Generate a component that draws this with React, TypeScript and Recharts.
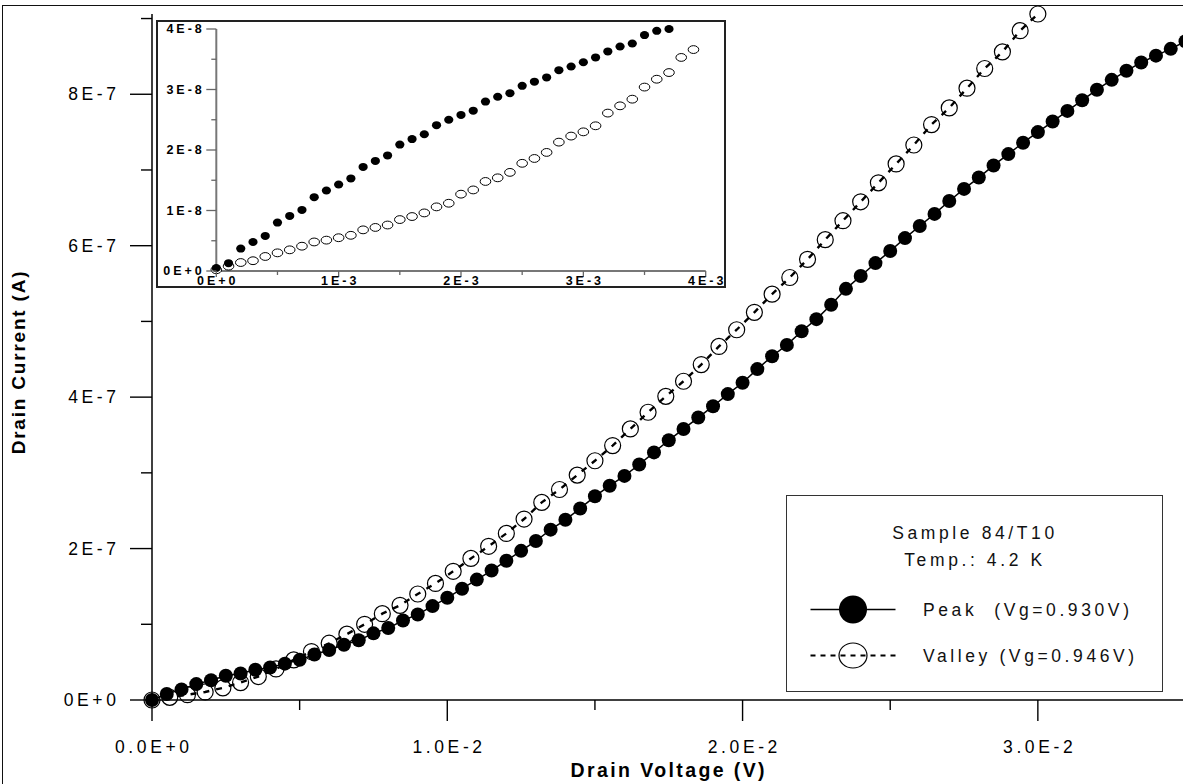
import React from "react"
import { ComposedChart, Line, XAxis, YAxis, Legend, Label } from "recharts"

const FONT = '"Liberation Sans", Arial, Helvetica, sans-serif'

// main plot: drain voltage in mV, drain current in units of 1E-7 A
const peakVoltage = [
  0, 0.5, 1, 1.5, 2, 2.5, 3, 3.5, 4, 4.5, 5, 5.5, 6, 6.5, 7, 7.5, 8, 8.5, 9, 9.5,
  10, 10.5, 11, 11.5, 12, 12.5, 13, 13.5, 14, 14.5, 15, 15.5, 16, 16.5, 17, 17.5,
  18, 18.5, 19, 19.5, 20, 20.5, 21, 21.5, 22, 22.5, 23, 23.5, 24, 24.5, 25, 25.5,
  26, 26.5, 27, 27.5, 28, 28.5, 29, 29.5, 30, 30.5, 31, 31.5, 32, 32.5, 33, 33.5,
  34, 34.5, 35,
]
const peakCurrent = [
  0, 0.08, 0.14, 0.21, 0.26, 0.32, 0.35, 0.4, 0.43, 0.48, 0.53, 0.6, 0.66, 0.73,
  0.79, 0.88, 0.95, 1.05, 1.13, 1.24, 1.35, 1.47, 1.59, 1.71, 1.84, 1.97, 2.1,
  2.25, 2.38, 2.53, 2.69, 2.83, 2.96, 3.11, 3.27, 3.43, 3.58, 3.73, 3.88, 4.04,
  4.19, 4.37, 4.54, 4.69, 4.87, 5.03, 5.22, 5.43, 5.6, 5.77, 5.93, 6.1, 6.26,
  6.42, 6.59, 6.75, 6.9, 7.06, 7.21, 7.36, 7.5, 7.64, 7.78, 7.92, 8.06, 8.19,
  8.31, 8.42, 8.51, 8.6, 8.7,
]
const valleyVoltage = [
  0, 0.6, 1.2, 1.8, 2.4, 3, 3.6, 4.2, 4.8, 5.4, 6, 6.6, 7.2, 7.8, 8.4, 9, 9.6,
  10.2, 10.8, 11.4, 12, 12.6, 13.2, 13.8, 14.4, 15, 15.6, 16.2, 16.8, 17.4, 18,
  18.6, 19.2, 19.8, 20.4, 21, 21.6, 22.2, 22.8, 23.4, 24, 24.6, 25.2, 25.8, 26.4,
  27, 27.6, 28.2, 28.8, 29.4, 30,
]
const valleyCurrent = [
  0, 0.035, 0.07, 0.106, 0.16, 0.23, 0.31, 0.41, 0.53, 0.64, 0.75, 0.87, 1.0,
  1.14, 1.25, 1.4, 1.54, 1.7, 1.87, 2.03, 2.2, 2.39, 2.61, 2.78, 2.97, 3.16,
  3.36, 3.58, 3.8, 4.01, 4.21, 4.43, 4.67, 4.89, 5.12, 5.36, 5.58, 5.82, 6.08,
  6.33, 6.58, 6.83, 7.08, 7.33, 7.6, 7.82, 8.08, 8.34, 8.56, 8.84, 9.06,
]

// inset: drain voltage in mV, drain current in units of 1E-8 A
const insetPeakVoltage = [
  0, 0.1, 0.2, 0.3, 0.4, 0.5, 0.6, 0.7, 0.8, 0.9, 1, 1.1, 1.2, 1.3, 1.4, 1.5,
  1.6, 1.7, 1.8, 1.9, 2, 2.1, 2.2, 2.3, 2.4, 2.5, 2.6, 2.7, 2.8, 2.9, 3, 3.1,
  3.2, 3.3, 3.4, 3.5, 3.6, 3.7,
]
const insetPeakCurrent = [
  0.05, 0.13, 0.37, 0.48, 0.58, 0.8, 0.91, 1.01, 1.22, 1.33, 1.43, 1.53, 1.72,
  1.82, 1.91, 2.09, 2.18, 2.26, 2.41, 2.5, 2.58, 2.65, 2.8, 2.88, 2.94, 3.06,
  3.13, 3.2, 3.32, 3.38, 3.45, 3.53, 3.63, 3.71, 3.76, 3.9, 3.97, 4.0,
]
const insetValleyVoltage = [
  0, 0.1, 0.2, 0.3, 0.4, 0.5, 0.6, 0.7, 0.8, 0.9, 1, 1.1, 1.2, 1.3, 1.4, 1.5,
  1.6, 1.7, 1.8, 1.9, 2, 2.1, 2.2, 2.3, 2.4, 2.5, 2.6, 2.7, 2.8, 2.9, 3, 3.1,
  3.2, 3.3, 3.4, 3.5, 3.6, 3.7, 3.8, 3.9,
]
const insetValleyCurrent = [
  0.02, 0.08, 0.14, 0.17, 0.24, 0.3, 0.35, 0.41, 0.48, 0.51, 0.55, 0.59, 0.68,
  0.72, 0.76, 0.85, 0.9, 0.96, 1.06, 1.12, 1.27, 1.34, 1.48, 1.54, 1.63, 1.78,
  1.86, 1.96, 2.13, 2.23, 2.3, 2.4, 2.61, 2.73, 2.84, 3.04, 3.17, 3.28, 3.53,
  3.66,
]

const xTicks = [0, 5, 10, 15, 20, 25, 30, 35]
const xTickLabels = ["0.0E+0", "", "1.0E-2", "", "2.0E-2", "", "3.0E-2", ""]
const yTicks = [0, 1, 2, 3, 4, 5, 6, 7, 8, 9]
const yTickLabels = ["0E+0", "", "2E-7", "", "4E-7", "", "6E-7", "", "8E-7", ""]
const insetXTicks = [0, 0.5, 1, 1.5, 2, 2.5, 3, 3.5, 4]
const insetXTickLabels = ["0E+0", "", "1E-3", "", "2E-3", "", "3E-3", "", "4E-3"]
const insetYTicks = [0, 0.5, 1, 1.5, 2, 2.5, 3, 3.5, 4]
const insetYTickLabels = ["0E+0", "", "1E-8", "", "2E-8", "", "3E-8", "", "4E-8"]

const xTitle = "Drain Voltage (V)"
const yTitle = "Drain Current (A)"
const legendNotes = ["Sample 84/T10", "Temp.: 4.2 K"]
const seriesNames = ["Peak  (Vg=0.930V)", "Valley (Vg=0.946V)"]

const zip = (vs: number[], cs: number[]) => vs.map((v, k) => ({ v, i: cs[k] }))
const peakData = zip(peakVoltage, peakCurrent)
const valleyData = zip(valleyVoltage, valleyCurrent)
const insetPeakData = zip(insetPeakVoltage, insetPeakCurrent)
const insetValleyData = zip(insetValleyVoltage, insetValleyCurrent)

const tickText = { fontFamily: FONT, fontSize: 17.5, letterSpacing: "3.6px", fill: "#000" }
const insetText = { fontFamily: FONT, fontSize: 12.5, fontWeight: 700, letterSpacing: "3px", fill: "#000" }

function MainXTick({ x, y, payload }: any) {
  const label = xTickLabels[xTicks.indexOf(payload.value)] || ""
  return (
    <g>
      <line x1={x} x2={x} y1={y} y2={y + (label ? 21 : 10)} stroke="#000" strokeWidth={1.4} />
      {label && (
        <text x={x + 1.8} y={y + 47} textAnchor="middle" dominantBaseline="central" style={tickText}>
          {label}
        </text>
      )}
    </g>
  )
}

function MainYTick({ x, y, payload }: any) {
  const label = yTickLabels[yTicks.indexOf(payload.value)] || ""
  return (
    <g>
      <line x1={x - (label ? 22 : 11)} x2={x} y1={y} y2={y} stroke="#000" strokeWidth={1.4} />
      {label && (
        <text x={x - 32.5} y={y} textAnchor="end" dominantBaseline="central" style={tickText}>
          {label}
        </text>
      )}
    </g>
  )
}

function InsetXTick({ x, y, payload }: any) {
  const label = insetXTickLabels[insetXTicks.indexOf(payload.value)] || ""
  return (
    <g>
      <line x1={x} x2={x} y1={y} y2={y + (label ? 6 : 4)} stroke="#666" strokeWidth={1.3} />
      {label && (
        <text x={x + 1.5} y={y + 9.5} textAnchor="middle" dominantBaseline="central" style={insetText}>
          {label}
        </text>
      )}
    </g>
  )
}

function InsetYTick({ x, y, payload }: any) {
  const label = insetYTickLabels[insetYTicks.indexOf(payload.value)] || ""
  return (
    <g>
      <line x1={x - (label ? 10 : 5)} x2={x} y1={y} y2={y} stroke="#666" strokeWidth={1.3} />
      {label && (
        <text x={x - 11.5} y={y} textAnchor="end" dominantBaseline="central" style={insetText}>
          {label}
        </text>
      )}
    </g>
  )
}

const peakDot = (p: any) => <circle key={`pk-${p.index}`} cx={p.cx} cy={p.cy} r={7} fill="#000" />
const valleyDot = (p: any) => (
  <circle key={`vl-${p.index}`} cx={p.cx} cy={p.cy} r={8} fill="none" stroke="#000" strokeWidth={1.2} />
)
const insetPeakDot = (p: any) => (
  <ellipse key={`ipk-${p.index}`} cx={p.cx} cy={p.cy} rx={4.6} ry={4} fill="#000" />
)
const insetValleyDot = (p: any) => (
  <ellipse key={`ivl-${p.index}`} cx={p.cx} cy={p.cy} rx={5.3} ry={3.9} fill="#fff" stroke="#000" strokeWidth={1} />
)

function LegendBox() {
  const text = { fontFamily: FONT, fontSize: 17.5, letterSpacing: "3.6px", fill: "#111", whiteSpace: "pre" as const }
  return (
    <div
      style={{
        width: 377,
        height: 197,
        boxSizing: "border-box",
        border: "1.5px solid #333",
        background: "#fff",
      }}
    >
      <svg width={374} height={194} style={{ display: "block" }}>
        {legendNotes.map((t, k) => (
          <text key={t} x={188} y={36.5 + k * 27} textAnchor="middle" dominantBaseline="central" style={text}>
            {t}
          </text>
        ))}
        <line x1={23.5} x2={108.5} y1={113.5} y2={113.5} stroke="#000" strokeWidth={1.5} />
        <circle cx={66} cy={113.5} r={14} fill="#000" />
        <line x1={23.5} x2={108.5} y1={159.5} y2={159.5} stroke="#000" strokeWidth={2.2} strokeDasharray="5 5" />
        <ellipse cx={66} cy={159.5} rx={14} ry={12.5} fill="none" stroke="#000" strokeWidth={1.2} />
        {seriesNames.map((t, k) => (
          <text key={t} x={136} y={113.5 + k * 46} dominantBaseline="central" style={text}>
            {t}
          </text>
        ))}
      </svg>
    </div>
  )
}

function XTitle({ viewBox }: any) {
  return (
    <text
      x={viewBox.x + viewBox.width / 2}
      y={viewBox.y + 70}
      textAnchor="middle"
      dominantBaseline="central"
      style={{ fontFamily: FONT, fontSize: 19.5, fontWeight: 700, letterSpacing: "2.4px", fill: "#000" }}
    >
      {xTitle}
    </text>
  )
}

function YTitle({ viewBox }: any) {
  const cx = viewBox.x + 18
  const cy = viewBox.y + 348
  return (
    <text
      x={cx}
      y={cy}
      transform={`rotate(-90 ${cx} ${cy})`}
      textAnchor="middle"
      dominantBaseline="central"
      style={{ fontFamily: FONT, fontSize: 19, fontWeight: 700, letterSpacing: "1.8px", fill: "#000" }}
    >
      {yTitle}
    </text>
  )
}

function Inset() {
  // frame box is 570x268; the chart surface hangs past its right and bottom edges so tick labels are not cut
  return (
    <div
      style={{
        position: "absolute",
        left: 156,
        top: 20,
        width: 570,
        height: 268,
        boxSizing: "border-box",
        border: "2px solid #222",
        background: "#fff",
      }}
    >
      <div style={{ position: "absolute", left: 0, top: 0 }}>
        <ComposedChart width={586} height={280} margin={{ top: 7, right: 38.3, bottom: 0, left: 0 }}>
          <XAxis
            type="number"
            dataKey="v"
            domain={[0, 4]}
            ticks={insetXTicks}
            interval={0}
            height={31}
            tickSize={0}
            tickMargin={0}
            tickLine={false}
            axisLine={{ stroke: "#777", strokeWidth: 2 }}
            tick={<InsetXTick />}
          />
          <YAxis
            type="number"
            dataKey="i"
            domain={[0, 4]}
            ticks={insetYTicks}
            interval={0}
            width={58.3}
            tickSize={0}
            tickMargin={0}
            tickLine={false}
            axisLine={{ stroke: "#777", strokeWidth: 2 }}
            tick={<InsetYTick />}
          />
          <Line
            data={insetValleyData}
            dataKey="i"
            stroke="none"
            dot={insetValleyDot}
            activeDot={false}
            isAnimationActive={false}
          />
          <Line
            data={insetPeakData}
            dataKey="i"
            stroke="none"
            dot={insetPeakDot}
            activeDot={false}
            isAnimationActive={false}
          />
        </ComposedChart>
      </div>
    </div>
  )
}

export default function App() {
  return (
    <div
      style={{
        position: "fixed",
        left: 0,
        top: 0,
        width: 1183,
        height: 784,
        overflow: "hidden",
        background: "#fff",
      }}
    >
      <div
        style={{
          position: "absolute",
          left: 2,
          top: 5,
          width: 1300,
          height: 900,
          border: "1.5px solid #111",
        }}
      />
      <div style={{ position: "absolute", left: 0, top: 0 }}>
        <ComposedChart width={1190} height={784} margin={{ top: 14, right: 4.5, bottom: 0, left: 0 }}>
          <XAxis
            type="number"
            dataKey="v"
            domain={[0, 35]}
            ticks={xTicks}
            interval={0}
            height={84}
            tickSize={0}
            tickMargin={0}
            tickLine={false}
            axisLine={{ stroke: "#000", strokeWidth: 1.5 }}
            tick={<MainXTick />}
          >
            <Label content={<XTitle />} />
          </XAxis>
          <YAxis
            type="number"
            dataKey="i"
            domain={[0, 9.06]}
            ticks={yTicks}
            interval={0}
            width={152}
            tickSize={0}
            tickMargin={0}
            tickLine={false}
            axisLine={{ stroke: "#000", strokeWidth: 1.5 }}
            tick={<MainYTick />}
          >
            <Label content={<YTitle />} />
          </YAxis>
          <Line
            name={seriesNames[1]}
            data={valleyData}
            dataKey="i"
            type="linear"
            stroke="#000"
            strokeWidth={2.4}
            strokeDasharray="6 7"
            dot={valleyDot}
            activeDot={false}
            isAnimationActive={false}
          />
          <Line
            name={seriesNames[0]}
            data={peakData}
            dataKey="i"
            type="linear"
            stroke="#000"
            strokeWidth={1.5}
            dot={peakDot}
            activeDot={false}
            isAnimationActive={false}
          />
          <Legend
            layout="horizontal"
            verticalAlign="middle"
            align="center"
            wrapperStyle={{ left: 785.7, top: 495, width: 377, height: 197 }}
            content={() => <LegendBox />}
          />
        </ComposedChart>
      </div>
      <Inset />
    </div>
  )
}
